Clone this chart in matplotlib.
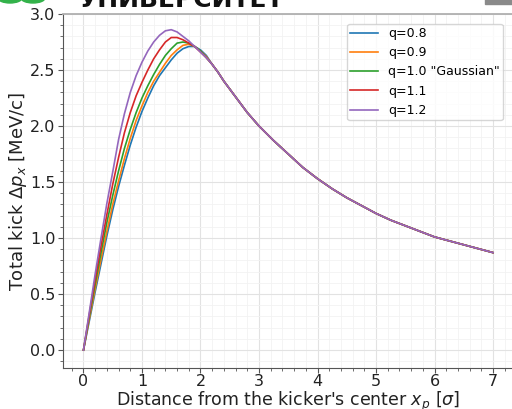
import matplotlib
matplotlib.use('Agg')
import matplotlib.pyplot as plt
from matplotlib.patches import Ellipse, Rectangle
from matplotlib.ticker import MultipleLocator

# distance from the kicker's center [sigma]
x_head = [0.0, 0.1, 0.2, 0.3, 0.4, 0.5, 0.6, 0.7, 0.8, 0.9, 1.0,
          1.1, 1.2, 1.3, 1.4, 1.5, 1.6, 1.7, 1.8, 1.9, 2.0, 2.1]
x_tail = [2.2, 2.3, 2.4, 2.5, 2.6, 2.7, 2.8, 2.9, 3.0, 3.25, 3.5, 3.75,
          4.0, 4.25, 4.5, 4.75, 5.0, 5.25, 5.5, 5.75, 6.0, 6.5, 7.0]

# total kick [MeV/c], rising part differs per q
kick_q08 = [0.0, 0.26, 0.52, 0.77, 1.02, 1.25, 1.46, 1.65, 1.83, 1.99, 2.13,
            2.25, 2.36, 2.45, 2.52, 2.59, 2.65, 2.69, 2.71, 2.71, 2.68, 2.63]
kick_q09 = [0.0, 0.28, 0.55, 0.81, 1.06, 1.30, 1.51, 1.71, 1.89, 2.05, 2.18,
            2.30, 2.40, 2.48, 2.56, 2.63, 2.68, 2.72, 2.73, 2.71, 2.67, 2.62]
kick_q10 = [0.0, 0.30, 0.59, 0.87, 1.14, 1.38, 1.60, 1.80, 1.97, 2.12, 2.25,
            2.36, 2.46, 2.55, 2.63, 2.69, 2.74, 2.75, 2.74, 2.71, 2.67, 2.61]
kick_q11 = [0.0, 0.32, 0.63, 0.93, 1.21, 1.48, 1.72, 1.94, 2.12, 2.27, 2.39,
            2.50, 2.60, 2.68, 2.75, 2.79, 2.79, 2.77, 2.74, 2.71, 2.66, 2.61]
kick_q12 = [0.0, 0.34, 0.68, 1.00, 1.31, 1.59, 1.88, 2.11, 2.30, 2.45, 2.57,
            2.67, 2.75, 2.81, 2.85, 2.86, 2.84, 2.80, 2.76, 2.71, 2.66, 2.61]
# tail is the same for all q
kick_tail = [2.55, 2.48, 2.40, 2.33, 2.26, 2.19, 2.12, 2.06, 2.00, 1.87, 1.75,
             1.63, 1.53, 1.44, 1.36, 1.29, 1.22, 1.16, 1.11, 1.06, 1.01, 0.94,
             0.87]

labels = ['q=0.8', 'q=0.9', 'q=1.0 "Gaussian"', 'q=1.1', 'q=1.2']
series = [kick_q08, kick_q09, kick_q10, kick_q11, kick_q12]

W, H = 512, 409
fig = plt.figure(figsize=(W / 100, H / 100), dpi=100)
ax = fig.add_axes([63 / W, 41 / H, 450.5 / W, 354 / H])

x_all = x_head + x_tail
for y, lab in zip(series, labels):
    ax.plot(x_all, y + kick_tail, linewidth=1.2, label=lab)

ax.set_xlim(-0.35, 7.35)
ax.set_ylim(-0.16, 3.0)
ax.xaxis.set_major_locator(MultipleLocator(1))
ax.xaxis.set_minor_locator(MultipleLocator(0.2))
ax.yaxis.set_major_locator(MultipleLocator(0.5))
ax.yaxis.set_minor_locator(MultipleLocator(0.1))
ax.grid(which='major', color='#e2e2e2', linewidth=0.8)
ax.grid(which='minor', color='#f2f2f2', linewidth=0.6)
ax.set_axisbelow(True)
ax.tick_params(which='major', length=3.5, width=0.8, labelsize=11.5,
               color='#555555', labelcolor='#222222', pad=2)
ax.tick_params(axis='x', which='major', pad=1)
ax.tick_params(which='minor', length=2, width=0.6, color='#555555')
for side in ['left', 'bottom']:
    ax.spines[side].set_color('#555555')
ax.spines['top'].set_color('#b0b0b0')
ax.spines['top'].set_linewidth(1.3)
ax.spines['right'].set_visible(False)

ax.set_xlabel(r"Distance from the kicker's center $x_p$ [$\sigma$]",
              fontsize=12.5, color='#222222')
ax.set_ylabel(r'Total kick $\Delta p_x$ [MeV/c]', fontsize=13,
              color='#222222')
ax.xaxis.set_label_coords(0.5, -0.061)
ax.yaxis.set_label_coords(-0.075, 0.5)

ax.legend(loc='upper right', fontsize=9, handlelength=2.2, borderpad=0.25,
          edgecolor='#cccccc', bbox_to_anchor=(0.99, 0.99))

# slide header remains above the plot
fig.text(78 / W, 1 - 7 / H, 'УНИВЕРСИТЕТ', fontsize=18, fontweight='bold',
         color='#111111', va='baseline', ha='left')
for cx, w in [(10, 24), (33, 24)]:
    fig.patches.append(Ellipse((cx / W, 1 + 2 / H), w / W, 10 / H,
                               transform=fig.transFigure, color='#33b24a'))
fig.patches.append(Rectangle((485 / W, 1 - 4 / H), 30 / W, 6 / H,
                             transform=fig.transFigure, color='#8a8a8a'))

fig.savefig('out.png', dpi=100)
